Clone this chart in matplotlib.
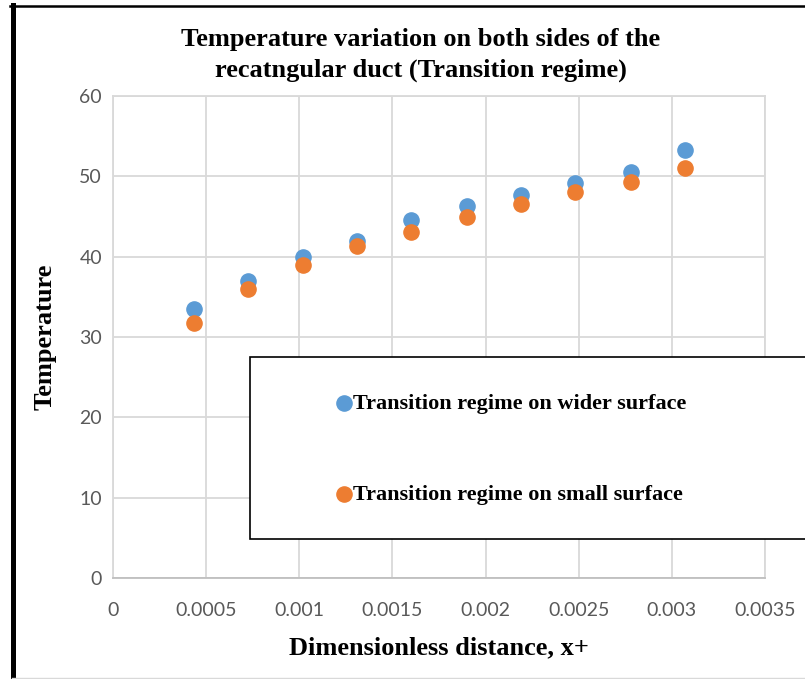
import matplotlib.pyplot as plt
from matplotlib.lines import Line2D
from matplotlib.patches import Rectangle

# values
x_plus = [0.000435, 0.000725, 0.00102, 0.00131, 0.00160, 0.00190, 0.00219, 0.00248, 0.00278, 0.00307]
t_wider = [33.5, 37.0, 40.0, 42.0, 44.6, 46.3, 47.7, 49.2, 50.6, 53.3]
t_small = [31.8, 36.0, 39.0, 41.3, 43.1, 45.0, 46.5, 48.0, 49.3, 51.1]

x_ticks = [0, 0.0005, 0.001, 0.0015, 0.002, 0.0025, 0.003, 0.0035]
x_tick_labels = ["0", "0.0005", "0.001", "0.0015", "0.002", "0.0025", "0.003", "0.0035"]
y_ticks = [0, 10, 20, 30, 40, 50, 60]

serif = "Liberation Serif"
tick_font = "Lato"

fig = plt.figure(figsize=(8.05, 6.79), dpi=100)
ax = fig.add_axes([0.1404, 0.1487, 0.8099, 0.7099])

ax.scatter(x_plus, t_wider, s=120, color="#5B9BD5", zorder=3,
           label="Transition regime on wider surface")
ax.scatter(x_plus, t_small, s=120, color="#ED7D31", zorder=3,
           label="Transition regime on small surface")

ax.set_xlim(0, 0.0035)
ax.set_ylim(0, 60)
ax.set_xticks(x_ticks)
ax.set_xticklabels(x_tick_labels)
ax.set_yticks(y_ticks)
ax.grid(True, color="#D9D9D9", linewidth=1.3)
ax.set_axisbelow(True)
ax.tick_params(length=0, labelsize=14, labelcolor="#595959")
ax.tick_params(axis="x", pad=17)
ax.tick_params(axis="y", pad=8)
for lab in ax.get_xticklabels() + ax.get_yticklabels():
    lab.set_fontfamily(tick_font)

for side in ["top", "right", "left"]:
    ax.spines[side].set_color("#D9D9D9")
    ax.spines[side].set_linewidth(1.3)
ax.spines["bottom"].set_color("#BFBFBF")
ax.spines["bottom"].set_linewidth(1.3)

ax.set_xlabel("Dimensionless distance, x+", fontsize=19, fontweight="bold",
              family=serif, labelpad=13)
ax.set_ylabel("Temperature", fontsize=19, fontweight="bold", family=serif,
              labelpad=16)

fig.text(0.523, 1 - 55 / 679, "Temperature variation on both sides of the\nrecatngular duct (Transition regime)",
         ha="center", va="center", fontsize=19, fontweight="bold", family=serif,
         linespacing=1.45)

# legend box (black frame that runs off the right edge)
fig.patches.append(Rectangle((250 / 805, 1 - 539 / 679), 600 / 805, 182 / 679,
                             transform=fig.transFigure, fill=True,
                             facecolor="white", edgecolor="black",
                             linewidth=1.2, zorder=5))
leg = fig.legend(loc="center left", bbox_to_anchor=(317 / 805, 1 - 449 / 679),
                 frameon=False, prop={"family": serif, "weight": "bold", "size": 16},
                 handletextpad=-0.3, labelspacing=3.15, markerscale=1.0,
                 borderpad=0, handlelength=1.4)
leg.set_zorder(6)

# outer border: thick top and left, thin light bottom
fig.add_artist(Line2D([12.5 / 805, 12.5 / 805], [0, 1 - 5 / 679], color="black",
                      linewidth=3.6, transform=fig.transFigure))
fig.add_artist(Line2D([10 / 805, 1], [1 - 6 / 679, 1 - 6 / 679], color="black",
                      linewidth=1.8, transform=fig.transFigure))
fig.add_artist(Line2D([12 / 805, 1], [1.5 / 679, 1.5 / 679], color="#D9D9D9",
                      linewidth=1.0, transform=fig.transFigure))

fig.savefig("out.png", dpi=100)
